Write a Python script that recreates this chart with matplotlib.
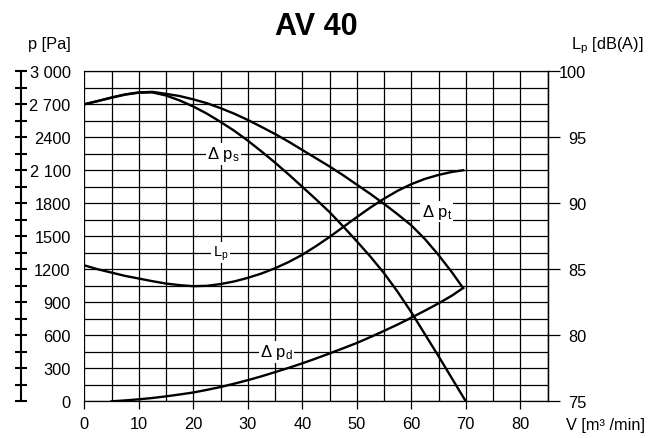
import numpy as np
import matplotlib
matplotlib.use("Agg")
import matplotlib.pyplot as plt

plt.rcParams['font.family'] = ['Liberation Sans', 'DejaVu Sans']
plt.rcParams['mathtext.fontset'] = 'custom'
plt.rcParams['mathtext.rm'] = 'Liberation Sans'
plt.rcParams['mathtext.it'] = 'Liberation Sans:italic'

# curves, V in m3/min
ps_x = [0, 2.5, 5, 7.5, 10, 12.5, 15, 17.5, 20, 22.5, 25, 27.5, 30, 32.5, 35, 37.5,
        40, 42.5, 45, 47.5, 50, 52.5, 55, 57.5, 60, 62.5, 65, 67.5, 70]
ps_y = [2700, 2730, 2760, 2788, 2806, 2808, 2780, 2735, 2680, 2615, 2540, 2460, 2370,
        2272, 2170, 2062, 1950, 1837, 1720, 1590, 1455, 1315, 1165, 995, 810, 610,
        410, 205, 0]

pt_x = [0, 2.5, 5, 7.5, 10, 12.5, 15, 17.5, 20, 22.5, 25, 27.5, 30, 32.5, 35, 37.5,
        40, 42.5, 45, 47.5, 50, 52.5, 55, 57.5, 60, 62.5, 65, 67.5, 69.5]
pt_y = [2700, 2730, 2762, 2790, 2808, 2813, 2795, 2775, 2745, 2710, 2665, 2615, 2558,
        2495, 2430, 2360, 2285, 2210, 2135, 2055, 1970, 1885, 1795, 1700, 1600, 1475,
        1330, 1170, 1030]

pd_x = [5, 7.5, 10, 12.5, 15, 17.5, 20, 22.5, 25, 27.5, 30, 32.5, 35, 37.5, 40, 42.5,
        45, 47.5, 50, 52.5, 55, 57.5, 60, 62.5, 65, 67.5, 69.5]
pd_y = [0, 8, 18, 30, 45, 62, 80, 104, 130, 160, 192, 227, 265, 304, 345, 389,
        435, 482, 530, 584, 640, 698, 760, 824, 890, 962, 1030]

lp_x = [0, 2.5, 5, 7.5, 10, 12.5, 15, 17.5, 20, 22.5, 25, 27.5, 30, 32.5, 35, 37.5,
        40, 42.5, 45, 47.5, 50, 52.5, 55, 57.5, 60, 62.5, 65, 67.5, 69.5]
lp_y = [85.3, 85.0, 84.75, 84.5, 84.3, 84.1, 83.92, 83.8, 83.72, 83.75, 83.88, 84.08,
        84.35, 84.68, 85.08, 85.55, 86.1, 86.75, 87.45, 88.2, 88.95, 89.68, 90.35, 90.95,
        91.45, 91.85, 92.15, 92.38, 92.5]

p_ticks = [0, 300, 600, 900, 1200, 1500, 1800, 2100, 2400, 2700, 3000]
p_labels = ["0", "300", "600", "900", "1200", "1500", "1800", "2 100", "2400", "2 700", "3 000"]
lp_ticks = [75, 80, 85, 90, 95, 100]
v_ticks = [0, 10, 20, 30, 40, 50, 60, 70, 80]

fig = plt.figure(figsize=(6.71, 4.39), dpi=100)
ax = fig.add_axes([0.1256, 0.0836, 0.6904, 0.7517])
ax.set_xlim(0, 85)
ax.set_ylim(0, 3000)
ax.set_axisbelow(True)

ax.set_xticks(v_ticks)
ax.set_xticklabels([str(v) for v in v_ticks])
ax.set_xticks(np.arange(5, 86, 10), minor=True)
ax.set_yticks(p_ticks)
ax.set_yticklabels(p_labels)
ax.set_yticks(np.arange(150, 3000, 300), minor=True)
ax.grid(which='both', color='black', lw=0.9)

ax.tick_params(axis='x', which='major', direction='out', length=5.8, width=0.9,
               pad=4.5, labelsize=11.8)
ax.tick_params(axis='x', which='minor', length=0)
ax.tick_params(axis='y', which='both', direction='inout', length=8.6, width=1.5,
               pad=-40.3, labelsize=11.8)
ax.spines['left'].set_position(('outward', 45.8))
ax.spines['left'].set_linewidth(1.5)
for s in ['top', 'right', 'bottom']:
    ax.spines[s].set_linewidth(0.9)

lw = 1.7
ax.plot(ps_x, ps_y, color='black', lw=lw, zorder=3)
ax.plot(pt_x, pt_y, color='black', lw=lw, zorder=3)
ax.plot(pd_x, pd_y, color='black', lw=lw, zorder=3)

box = dict(facecolor='white', edgecolor='none', pad=1)
ax.text(25.5, 2250, "Δ p$_\\mathrm{s}$", fontsize=12, ha='center', va='center', bbox=box, zorder=4)
ax.text(64.7, 1725, "Δ p$_\\mathrm{t}$", fontsize=12, ha='center', va='center', bbox=box, zorder=4)
ax.text(35.3, 450, "Δ p$_\\mathrm{d}$", fontsize=12, ha='center', va='center', bbox=box, zorder=4)
ax.text(25, 1350, "L$_\\mathrm{p}$", fontsize=10.5, ha='center', va='center', bbox=box, zorder=4)

ax2 = ax.twinx()
ax2.set_ylim(75, 100)
ax2.set_yticks(lp_ticks)
ax2.set_yticklabels([str(v) for v in lp_ticks])
ax2.tick_params(axis='y', direction='out', length=8.3, width=0.9, pad=19.4, labelsize=11.8)
for lab in ax2.get_yticklabels():
    lab.set_horizontalalignment('right')
for s in ['left', 'top', 'bottom']:
    ax2.spines[s].set_visible(False)
ax2.spines['right'].set_linewidth(0.9)
ax2.plot(lp_x, lp_y, color='black', lw=lw, zorder=3)

fig.text(316 / 671, 1 - 35 / 439, "AV 40", ha='center', va='baseline',
         fontsize=22, fontweight='bold')
fig.text(71 / 671, 1 - 49 / 439, "p [Pa]", ha='right', va='baseline', fontsize=11.8)
fig.text(570.7 / 671, 1 - 49 / 439, "L$_\\mathrm{p}$ [dB(A)]", ha='left', va='baseline', fontsize=11.8)
fig.text(566 / 671, 1 - 430 / 439, "V [m³ /min]", ha='left', va='baseline', fontsize=11.8)

fig.savefig('out.png', dpi=100)
